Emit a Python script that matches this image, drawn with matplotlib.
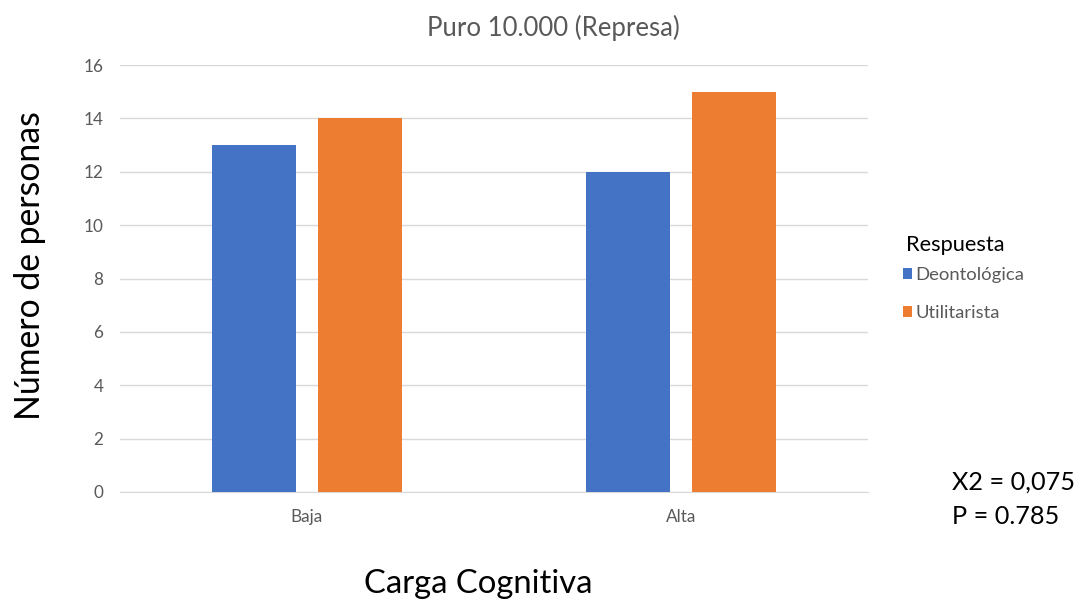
import matplotlib.pyplot as plt
import numpy as np

plt.rcParams['font.family'] = ['Lato', 'DejaVu Sans']

# 数据
categorias = ['Baja', 'Alta']
deontologica = [13, 12]
utilitarista = [14, 15]
series_nombres = ['Deontológica', 'Utilitarista']
yticks = [0, 2, 4, 6, 8, 10, 12, 14, 16]

azul = '#4472C4'
naranja = '#ED7D31'
gris = '#595959'

fig = plt.figure(figsize=(10.82, 6.04), dpi=100)
ax = fig.add_axes([120 / 1082, 1 - 492 / 604, 748 / 1082, (492 - 65) / 604])

x = np.arange(len(categorias))
w = 0.225
off = 0.142
ax.bar(x - off, deontologica, w, color=azul, label=series_nombres[0], zorder=3)
ax.bar(x + off, utilitarista, w, color=naranja, label=series_nombres[1], zorder=3)

ax.set_xlim(-0.5, 1.5)
ax.set_ylim(0, 16)
ax.set_yticks(yticks)
ax.set_xticks(x)
ax.set_xticklabels(categorias)
ax.tick_params(length=0, labelsize=12.3, colors=gris, pad=12)
ax.tick_params(axis='y', pad=12)
ax.grid(axis='y', color='#d9d9d9', linewidth=1, zorder=0)
for s in ['top', 'right', 'left']:
    ax.spines[s].set_visible(False)
ax.spines['bottom'].set_color('#d9d9d9')

fig.text(553 / 1082, 1 - 28 / 604, 'Puro 10.000 (Represa)', ha='center', va='center',
         fontsize=18.5, color=gris)
fig.text(30 / 1082, 1 - 266 / 604, 'Número de personas', rotation=90, ha='center',
         va='center', fontsize=24.3)
fig.text(478 / 1082, 1 - 584 / 604, 'Carga Cognitiva', ha='center', va='center', fontsize=23.6)
fig.text(952 / 1082, 1 - 482 / 604, 'X2 = 0,075', ha='left', va='center', fontsize=18.2)
fig.text(952 / 1082, 1 - 516 / 604, 'P = 0.785', ha='left', va='center', fontsize=18.2)

leg = fig.legend(loc='upper left', bbox_to_anchor=(886 / 1082, 1 - 218 / 604),
                 frameon=False, title='Respuesta', fontsize=13.3, title_fontsize=15.7,
                 handlelength=0.5, handleheight=0.5, handletextpad=0.2,
                 labelspacing=1.2, alignment='left')
leg._legend_box.sep = 9
leg.get_title().set_position((3, 0))
for t in leg.get_texts():
    t.set_color(gris)

fig.savefig('out.png', dpi=100)
